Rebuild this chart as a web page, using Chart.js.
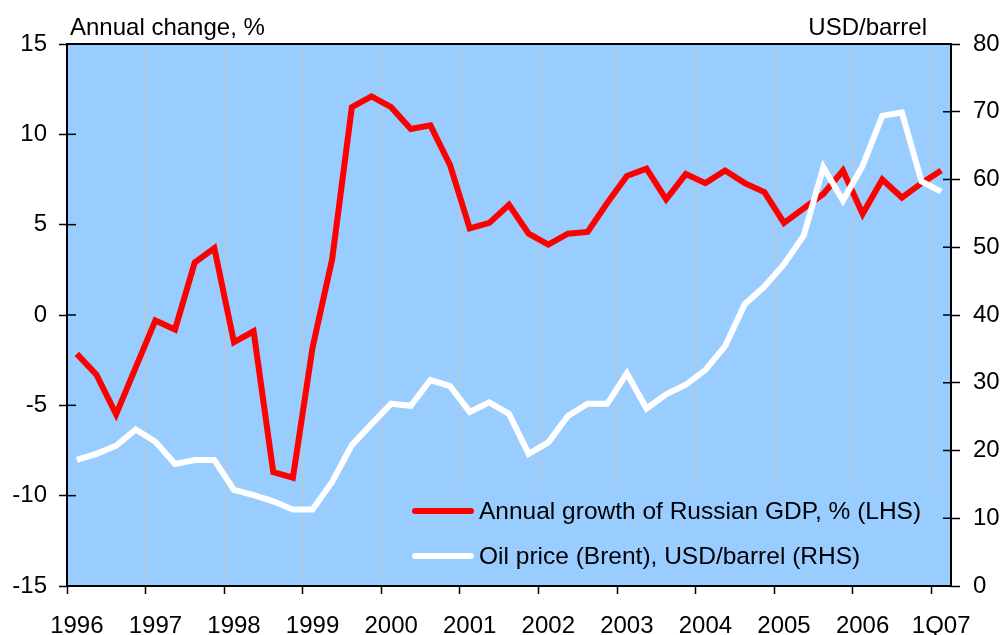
<!DOCTYPE html>
<html>
<head>
<meta charset="utf-8">
<script src="https://cdn.jsdelivr.net/npm/chart.js@4"></script>
<style>
    body { margin: 0; background: #fff; }
    #container { width: 1003px; height: 635px; }
</style>
</head>
<body>
<div id="container"><canvas id="grafico"></canvas></div>
<script>
// Trimestres (1Q96 a 1Q07)
const trimestres = [
    '1Q96', '2Q96', '3Q96', '4Q96', '1Q97', '2Q97', '3Q97', '4Q97',
    '1Q98', '2Q98', '3Q98', '4Q98', '1Q99', '2Q99', '3Q99', '4Q99',
    '1Q00', '2Q00', '3Q00', '4Q00', '1Q01', '2Q01', '3Q01', '4Q01',
    '1Q02', '2Q02', '3Q02', '4Q02', '1Q03', '2Q03', '3Q03', '4Q03',
    '1Q04', '2Q04', '3Q04', '4Q04', '1Q05', '2Q05', '3Q05', '4Q05',
    '1Q06', '2Q06', '3Q06', '4Q06', '1Q07'
];

// Rótulos do eixo X (um a cada 4 trimestres)
const rotulosEixoX = ['1996', '1997', '1998', '1999', '2000', '2001', '2002', '2003', '2004', '2005', '2006', '1Q07'];

// Crescimento anual do PIB russo, % (eixo esquerdo)
const crescimentoPIB = [
    -2.15, -3.3, -5.5, -2.9,
    -0.3, -0.8, 2.9, 3.7,
    -1.5, -0.9, -8.7, -9.0,
    -1.8, 3.1, 11.5, 12.1,
    11.5, 10.3, 10.5, 8.3,
    4.8, 5.1, 6.1, 4.5,
    3.9, 4.5, 4.6, 6.2,
    7.7, 8.1, 6.4, 7.8,
    7.3, 8.0, 7.3, 6.8,
    5.1, 5.9, 6.7, 8.0,
    5.6, 7.5, 6.5, 7.3,
    8.0
];

// Preço do petróleo (Brent), USD/barril (eixo direito)
const precoPetroleo = [
    18.6, 19.5, 20.7, 23.1,
    21.3, 18.0, 18.6, 18.6,
    14.2, 13.4, 12.5, 11.3,
    11.3, 15.4, 20.8, 23.9,
    26.9, 26.6, 30.4, 29.5,
    25.7, 27.1, 25.4, 19.5,
    21.2, 25.1, 26.9, 26.9,
    31.4, 26.2, 28.3, 29.7,
    31.9, 35.4, 41.6, 44.2,
    47.5, 51.7, 61.8, 56.9,
    62.0, 69.4, 69.9, 59.7,
    58.2
];

const legendas = ['Annual growth of Russian GDP, % (LHS)', 'Oil price (Brent), USD/barrel (RHS)'];
const tituloEsquerdo = 'Annual change, %';
const tituloDireito = 'USD/barrel';

const fonte = '"Liberation Sans", Arial, sans-serif';
const corFundo = '#99CCFF';
const corPIB = '#FF0000';
const corPetroleo = '#FFFFFF';

// Plugin para o fundo, moldura, marcas internas, títulos e legenda
const pluginDecoracao = {
    id: 'decoracao',
    beforeDraw(chart) {
        const { ctx, chartArea: a } = chart;
        ctx.save();
        ctx.fillStyle = corFundo;
        ctx.fillRect(a.left, a.top, a.right - a.left, a.bottom - a.top);
        ctx.restore();
    },
    afterDatasetsDraw(chart) {
        const { ctx, chartArea: a } = chart;
        ctx.save();

        // Caixa da legenda (cobre as linhas de grade)
        ctx.fillStyle = corFundo;
        ctx.fillRect(405, 486, 532, 92);

        ctx.font = '24.5px ' + fonte;
        ctx.textBaseline = 'middle';
        ctx.textAlign = 'left';
        const linhas = [[corPIB, 511], [corPetroleo, 556]];
        linhas.forEach(([cor, y], i) => {
            ctx.strokeStyle = cor;
            ctx.lineWidth = 6;
            ctx.lineCap = 'round';
            ctx.beginPath();
            ctx.moveTo(415, y);
            ctx.lineTo(471, y);
            ctx.stroke();
            ctx.fillStyle = '#000';
            ctx.fillText(legendas[i], 479, y + 1);
        });

        // Moldura
        ctx.lineCap = 'butt';
        ctx.strokeStyle = '#000';
        ctx.lineWidth = 2;
        ctx.strokeRect(a.left, a.top, a.right - a.left, a.bottom - a.top);

        // Marcas internas dos eixos Y
        ctx.lineWidth = 1.5;
        const yE = chart.scales.y;
        yE.ticks.forEach(t => {
            const py = yE.getPixelForValue(t.value);
            ctx.beginPath();
            ctx.moveTo(a.left, py);
            ctx.lineTo(a.left + 9, py);
            ctx.stroke();
        });
        const yD = chart.scales.y2;
        yD.ticks.forEach(t => {
            const py = yD.getPixelForValue(t.value);
            ctx.beginPath();
            ctx.moveTo(a.right - 8, py);
            ctx.lineTo(a.right, py);
            ctx.stroke();
        });

        // Títulos dos eixos
        ctx.font = '24px ' + fonte;
        ctx.fillStyle = '#000';
        ctx.textBaseline = 'alphabetic';
        ctx.textAlign = 'left';
        ctx.fillText(tituloEsquerdo, a.left + 3, 35);
        ctx.textAlign = 'right';
        ctx.fillText(tituloDireito, a.right - 24, 35);
        ctx.restore();
    }
};

const ctx = document.getElementById('grafico').getContext('2d');
new Chart(ctx, {
    type: 'line',
    data: {
        labels: trimestres,
        datasets: [{
            label: legendas[0],
            data: crescimentoPIB,
            yAxisID: 'y',
            borderColor: corPIB,
            borderWidth: 6,
            pointRadius: 0,
            tension: 0,
            order: 1
        }, {
            label: legendas[1],
            data: precoPetroleo,
            yAxisID: 'y2',
            borderColor: corPetroleo,
            borderWidth: 6,
            pointRadius: 0,
            tension: 0,
            order: 0
        }]
    },
    options: {
        responsive: true,
        maintainAspectRatio: false,
        animation: false,
        layout: { padding: { top: 44, left: 0, right: 0, bottom: 0 } },
        plugins: {
            legend: { display: false },
            tooltip: { enabled: false }
        },
        scales: {
            x: {
                offset: true,
                border: { display: false },
                grid: {
                    offset: true,
                    color: c => c.index % 4 === 0 ? '#C4C4C4' : 'rgba(0,0,0,0)',
                    tickColor: c => c.index % 4 === 0 ? '#000' : 'rgba(0,0,0,0)',
                    lineWidth: 1,
                    tickWidth: 1.5,
                    tickLength: 8
                },
                ticks: {
                    autoSkip: false,
                    maxRotation: 0,
                    minRotation: 0,
                    padding: 18,
                    color: '#000',
                    font: { family: fonte, size: 24 },
                    callback: (v, i) => i % 4 === 0 ? rotulosEixoX[i / 4] : ''
                },
                afterFit: s => { s.height = 49; }
            },
            y: {
                position: 'left',
                min: -15,
                max: 15,
                border: { display: false },
                grid: { drawOnChartArea: false, tickLength: 8, tickColor: '#000', tickWidth: 1.5 },
                ticks: {
                    stepSize: 5,
                    padding: 12,
                    color: '#000',
                    font: { family: fonte, size: 24 }
                },
                afterFit: s => { s.width = 67; }
            },
            y2: {
                position: 'right',
                min: 0,
                max: 80,
                border: { display: false },
                grid: { drawOnChartArea: false, tickLength: 9, tickColor: '#000', tickWidth: 1.5 },
                ticks: {
                    stepSize: 10,
                    padding: 13,
                    color: '#000',
                    font: { family: fonte, size: 24 }
                },
                afterFit: s => { s.width = 52; }
            }
        }
    },
    plugins: [pluginDecoracao]
});
</script>
</body>
</html>
